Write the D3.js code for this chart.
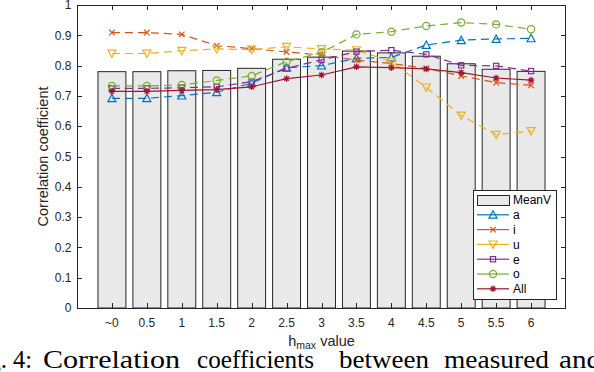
<!DOCTYPE html>
<html><head><meta charset="utf-8">
<script src="https://cdn.jsdelivr.net/npm/d3@7"></script>
<style>
html,body{margin:0;padding:0;background:#fff;}
svg{display:block;}
</style></head>
<body>
<svg id="chart" width="594" height="372"></svg>
<script>
const categories = ["~0","0.5","1","1.5","2","2.5","3","3.5","4","4.5","5","5.5","6"];
const meanV = [0.780,0.780,0.783,0.784,0.791,0.821,0.828,0.848,0.842,0.831,0.806,0.788,0.781];
const seriesA = [0.692,0.692,0.701,0.712,0.742,0.793,0.800,0.824,0.827,0.868,0.884,0.888,0.890];
const seriesI = [0.909,0.909,0.903,0.866,0.856,0.845,0.835,0.818,0.807,0.791,0.766,0.744,0.735];
const seriesU = [0.840,0.840,0.849,0.855,0.853,0.862,0.855,0.851,0.813,0.728,0.635,0.572,0.584];
const seriesE = [0.725,0.725,0.727,0.730,0.747,0.791,0.819,0.846,0.851,0.837,0.801,0.799,0.782];
const seriesO = [0.733,0.733,0.736,0.751,0.766,0.813,0.843,0.903,0.912,0.931,0.942,0.936,0.920];
const seriesAll = [0.715,0.715,0.718,0.721,0.730,0.757,0.769,0.796,0.793,0.789,0.777,0.759,0.752];
const yTicks = [0,0.1,0.2,0.3,0.4,0.5,0.6,0.7,0.8,0.9,1];

const series = [
  {name:"a", values:seriesA, color:"#0072BD", marker:"triUp", dash:"8,5"},
  {name:"i", values:seriesI, color:"#D95319", marker:"x", dash:"8,5"},
  {name:"u", values:seriesU, color:"#EDB120", marker:"triDown", dash:"8,5"},
  {name:"e", values:seriesE, color:"#7E2F8E", marker:"square", dash:"8,5"},
  {name:"o", values:seriesO, color:"#77AC30", marker:"circle", dash:"8,5"},
  {name:"All", values:seriesAll, color:"#A2142F", marker:"star", dash:null}
];

const svg = d3.select("#chart");
const L = 77, R = 566, T = 5, B = 308;
const ink = "#262626";
const font = "'Liberation Sans', Arial, Helvetica, sans-serif";

const x = d3.scaleLinear().domain([0, categories.length + 1]).range([L, R]);
const y = d3.scaleLinear().domain([0, 1]).range([B, T]);
const step = x(1) - x(0);
const barW = step * 0.8;

// bars
svg.append("g").selectAll("rect").data(meanV).join("rect")
  .attr("x", (d,i) => x(i+1) - barW/2)
  .attr("y", d => y(d))
  .attr("width", barW)
  .attr("height", d => y(0) - y(d))
  .attr("fill", "#e9e9e9")
  .attr("stroke", ink)
  .attr("stroke-width", 1);

// marker drawing
function drawMarker(g, type, cx, cy, color) {
  const sw = 1.2;
  if (type === "triUp") {
    const s = 4;
    g.append("path").attr("d", `M${cx},${cy-s} L${cx+s},${cy+s*0.85} L${cx-s},${cy+s*0.85} Z`)
      .attr("fill","none").attr("stroke",color).attr("stroke-width",sw);
  } else if (type === "triDown") {
    const s = 4;
    g.append("path").attr("d", `M${cx},${cy+s} L${cx+s},${cy-s*0.85} L${cx-s},${cy-s*0.85} Z`)
      .attr("fill","none").attr("stroke",color).attr("stroke-width",sw);
  } else if (type === "x") {
    const s = 2.8;
    g.append("path").attr("d", `M${cx-s},${cy-s} L${cx+s},${cy+s} M${cx-s},${cy+s} L${cx+s},${cy-s}`)
      .attr("stroke",color).attr("stroke-width",sw);
  } else if (type === "square") {
    const s = 2.6;
    g.append("rect").attr("x",cx-s).attr("y",cy-s).attr("width",2*s).attr("height",2*s)
      .attr("fill","none").attr("stroke",color).attr("stroke-width",sw);
  } else if (type === "circle") {
    g.append("circle").attr("cx",cx).attr("cy",cy).attr("r",3.6)
      .attr("fill","none").attr("stroke",color).attr("stroke-width",sw);
  } else if (type === "star") {
    const s = 3.3, d = s*0.7;
    g.append("path").attr("d", `M${cx-s},${cy} L${cx+s},${cy} M${cx},${cy-s} L${cx},${cy+s} M${cx-d},${cy-d} L${cx+d},${cy+d} M${cx-d},${cy+d} L${cx+d},${cy-d}`)
      .attr("stroke",color).attr("stroke-width",sw);
  }
}

// lines
const line = d3.line().x((d,i) => x(i+1)).y(d => y(d));
series.forEach(s => {
  const g = svg.append("g");
  g.append("path").datum(s.values).attr("d", line)
    .attr("fill","none").attr("stroke", s.color).attr("stroke-width", 1.2)
    .attr("stroke-dasharray", s.dash);
  s.values.forEach((v,i) => drawMarker(g, s.marker, x(i+1), y(v), s.color));
});

// axes box
svg.append("rect").attr("x", L+0.5).attr("y", T+0.5).attr("width", R-L-1).attr("height", B-T)
  .attr("fill","none").attr("stroke", ink).attr("stroke-width", 1);

const tickLen = 5;
const axG = svg.append("g");
// y ticks
yTicks.forEach(t => {
  const yy = Math.round(y(t)) + 0.5;
  axG.append("line").attr("x1", L).attr("x2", L+tickLen).attr("y1", yy).attr("y2", yy).attr("stroke", ink);
  axG.append("line").attr("x1", R).attr("x2", R-tickLen).attr("y1", yy).attr("y2", yy).attr("stroke", ink);
  axG.append("text").attr("x", L-5.5).attr("y", y(t)).attr("dy","0.35em")
    .attr("text-anchor","end").attr("font-family", font).attr("font-size", 12).attr("fill", ink)
    .text(d3.format("~g")(t));
});
// x ticks
categories.forEach((c,i) => {
  const xx = Math.round(x(i+1)) + 0.5;
  axG.append("line").attr("x1", xx).attr("x2", xx).attr("y1", B).attr("y2", B-tickLen).attr("stroke", ink);
  axG.append("line").attr("x1", xx).attr("x2", xx).attr("y1", T).attr("y2", T+tickLen).attr("stroke", ink);
  axG.append("text").attr("x", x(i+1)).attr("y", 327)
    .attr("text-anchor","middle").attr("font-family", font).attr("font-size", 12).attr("fill", ink)
    .text(c);
});

// axis labels
svg.append("text").attr("transform", `translate(47.5,${(T+B)/2}) rotate(-90)`)
  .attr("text-anchor","middle").attr("font-family", font).attr("font-size", 14.5).attr("fill", ink)
  .text("Correlation coefficient");
const xl = svg.append("text").attr("x", (L+R)/2).attr("y", 345.5)
  .attr("text-anchor","middle").attr("font-family", font).attr("font-size", 14.5).attr("fill", ink);
xl.append("tspan").text("h");
xl.append("tspan").attr("font-size", 10.5).attr("dy", 3).text("max");
xl.append("tspan").attr("dy", -3).text(" value");

// legend
const lg = svg.append("g");
lg.append("rect").attr("x", 473.5).attr("y", 190.5).attr("width", 83).attr("height", 109)
  .attr("fill","#fff").attr("stroke", ink).attr("stroke-width", 1);
const rowY = i => 200 + i*14.8;
lg.append("rect").attr("x", 477.5).attr("y", 195.5).attr("width", 32).attr("height", 10)
  .attr("fill","#e9e9e9").attr("stroke", ink);
lg.append("text").attr("x", 513).attr("y", rowY(0)).attr("dy","0.36em")
  .attr("font-family", font).attr("font-size", 12).attr("fill","#000").text("MeanV");
series.forEach((s,k) => {
  const yy = rowY(k+1);
  lg.append("line").attr("x1", 477).attr("x2", 509).attr("y1", yy).attr("y2", yy)
    .attr("stroke", s.color).attr("stroke-width", 1.2);
  drawMarker(lg, s.marker, 493, yy, s.color);
  lg.append("text").attr("x", 513).attr("y", yy).attr("dy","0.36em")
    .attr("font-family", font).attr("font-size", 12).attr("fill","#000").text(s.name);
});

// caption (cropped figure caption below the chart)
const capWords = [
  {t:"Fig.", x:7, anchor:"end"},
  {t:"4:", x:13, len:19},
  {t:"Correlation", x:43, len:137},
  {t:"coefficients", x:197, len:117},
  {t:"between", x:339, len:90},
  {t:"measured", x:444, len:105},
  {t:"and", x:559, len:42}
];
capWords.forEach(w => {
  const tx = svg.append("text").attr("x", w.x).attr("y", 368)
    .attr("font-family", "'Liberation Serif', 'Times New Roman', serif").attr("font-size", 25)
    .attr("fill","#000").attr("text-anchor", w.anchor || "start").text(w.t);
  if (w.len) tx.attr("textLength", w.len).attr("lengthAdjust", "spacingAndGlyphs");
});
</script>
</body></html>
